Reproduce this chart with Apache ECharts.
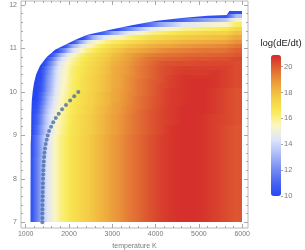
<!DOCTYPE html>
<html><head><meta charset="utf-8">
<script src="https://cdn.jsdelivr.net/npm/echarts@6/dist/echarts.min.js"></script>
<style>html,body{margin:0;padding:0;background:#fff}#c{width:305px;height:250px}</style>
</head><body><div id="c"></div>
<script>
const _ = null;
// cell edges (temperature K, log P)
const temperatureEdges = [1100,1200,1300,1400,1500,1600,1700,1800,1900,2000,2100,2200,2300,2400,2500,2600,2700,2800,2900,3000,3250,3500,3750,4000,4250,4500,4750,5000,5250,5500,5750,6000];
const logPEdges = [7.0,7.5,8.0,8.5,9.0,9.25,9.5,9.6,9.7,9.8,9.9,10.0,10.1,10.2,10.3,10.4,10.5,10.6,10.7,10.8,10.9,11.0,11.1,11.2,11.3,11.4,11.5,11.6,11.7,11.8,11.9];
// log(dE/dt) per cell, rows from low to high pressure
const cellValues = [
[10.4,11.6,12.8,13.9,14.7,15.3,15.8,16.2,16.5,16.8,17.0,17.2,17.4,17.6,17.8,18.0,18.2,18.4,18.6,18.9,19.4,19.8,20.2,20.5,20.7,20.8,20.8,20.7,20.5,20.3,20.1],
[10.4,11.6,12.8,13.9,14.7,15.3,15.8,16.2,16.5,16.8,17.0,17.2,17.4,17.6,17.8,18.0,18.2,18.4,18.6,18.9,19.4,19.8,20.2,20.5,20.7,20.8,20.8,20.7,20.5,20.3,20.1],
[10.4,11.6,12.8,13.9,14.7,15.3,15.8,16.2,16.5,16.8,17.0,17.2,17.4,17.6,17.8,18.0,18.2,18.4,18.6,18.9,19.4,19.8,20.2,20.5,20.7,20.8,20.8,20.7,20.5,20.3,20.1],
[10.3,11.5,12.7,13.8,14.6,15.3,15.8,16.2,16.5,16.8,17.0,17.2,17.4,17.6,17.8,18.0,18.2,18.4,18.6,18.9,19.4,19.8,20.2,20.5,20.7,20.8,20.8,20.7,20.5,20.3,20.1],
[10.0,11.1,12.3,13.4,14.3,15.0,15.6,16.0,16.4,16.7,16.9,17.1,17.3,17.5,17.7,17.9,18.1,18.3,18.5,18.8,19.3,19.7,20.1,20.4,20.7,20.8,20.8,20.7,20.5,20.3,20.1],
[10.0,10.8,12.0,13.2,14.2,14.9,15.5,15.9,16.3,16.6,16.9,17.1,17.3,17.5,17.7,17.9,18.1,18.3,18.5,18.8,19.3,19.7,20.1,20.4,20.6,20.8,20.8,20.7,20.5,20.4,20.2],
[10.0,10.5,11.7,12.9,14.0,14.8,15.4,15.8,16.2,16.5,16.8,17.0,17.2,17.4,17.6,17.8,18.0,18.2,18.4,18.7,19.2,19.7,20.1,20.4,20.6,20.8,20.8,20.8,20.6,20.4,20.2],
[10.0,10.3,11.5,12.7,13.8,14.6,15.2,15.7,16.2,16.5,16.8,17.0,17.2,17.4,17.6,17.8,18.0,18.2,18.4,18.7,19.2,19.6,20.0,20.4,20.6,20.8,20.8,20.8,20.6,20.4,20.2],
[10.0,10.2,11.2,12.4,13.6,14.5,15.1,15.6,16.1,16.4,16.7,16.9,17.1,17.3,17.5,17.7,17.9,18.1,18.3,18.7,19.1,19.6,20.0,20.3,20.6,20.7,20.8,20.8,20.6,20.4,20.2],
[10.0,10.0,11.0,12.2,13.4,14.3,15.0,15.6,16.0,16.4,16.6,16.9,17.1,17.3,17.5,17.7,17.9,18.1,18.3,18.6,19.1,19.6,20.0,20.3,20.6,20.7,20.8,20.8,20.6,20.4,20.2],
[10.0,10.0,10.8,12.0,13.1,14.1,14.9,15.5,15.9,16.3,16.6,16.9,17.1,17.3,17.5,17.7,17.9,18.1,18.3,18.6,19.1,19.5,19.9,20.3,20.6,20.7,20.8,20.8,20.6,20.4,20.2],
[10.0,10.0,10.5,11.7,12.9,14.0,14.8,15.4,15.8,16.2,16.5,16.8,17.0,17.2,17.4,17.6,17.8,18.0,18.2,18.6,19.0,19.5,19.9,20.3,20.6,20.7,20.8,20.8,20.6,20.4,20.2],
[10.0,10.0,10.4,11.6,12.8,13.9,14.7,15.3,15.8,16.2,16.5,16.8,17.0,17.2,17.4,17.6,17.8,18.0,18.2,18.5,19.0,19.5,19.9,20.3,20.5,20.7,20.8,20.8,20.7,20.5,20.3],
[10.0,10.0,10.3,11.5,12.7,13.8,14.6,15.2,15.7,16.2,16.5,16.8,17.0,17.2,17.4,17.6,17.8,18.0,18.2,18.5,19.0,19.5,19.9,20.2,20.5,20.7,20.8,20.8,20.7,20.5,20.3],
[10.0,10.0,10.2,11.4,12.6,13.7,14.5,15.2,15.7,16.1,16.4,16.7,17.0,17.2,17.4,17.6,17.8,18.0,18.2,18.5,19.0,19.4,19.8,20.2,20.5,20.7,20.7,20.7,20.7,20.5,20.3],
[_,10.0,10.2,11.2,12.4,13.6,14.5,15.1,15.6,16.1,16.4,16.7,16.9,17.1,17.3,17.5,17.7,17.9,18.1,18.5,18.9,19.4,19.8,20.2,20.4,20.6,20.6,20.6,20.7,20.5,20.3],
[_,10.0,10.0,11.0,12.2,13.4,14.3,15.0,15.6,16.0,16.4,16.6,16.9,17.1,17.3,17.5,17.7,17.9,18.1,18.5,18.9,19.4,19.8,20.2,20.4,20.5,20.5,20.5,20.5,20.5,20.3],
[_,_,10.0,10.3,11.7,12.9,14.0,14.8,15.4,15.8,16.2,16.5,16.8,17.0,17.2,17.4,17.6,17.8,18.0,18.4,18.8,19.3,19.7,20.1,20.2,20.3,20.3,20.4,20.4,20.4,20.3],
[_,_,10.0,10.0,11.0,12.2,13.4,14.3,15.0,15.6,16.0,16.4,16.6,16.9,17.1,17.3,17.5,17.7,17.9,18.2,18.7,19.2,19.6,19.8,19.9,20.0,20.1,20.1,20.2,20.2,20.4],
[_,_,_,10.0,10.1,11.1,12.3,13.5,14.4,15.1,15.6,16.0,16.4,16.7,16.9,17.1,17.3,17.5,17.7,18.1,18.6,19.0,19.3,19.5,19.6,19.7,19.8,19.8,19.9,19.9,20.1],
[_,_,_,_,_,10.0,10.4,11.6,12.8,13.8,14.6,15.2,15.7,16.1,16.4,16.7,17.0,17.2,17.4,17.7,18.2,18.5,18.8,19.0,19.2,19.3,19.4,19.5,19.5,19.6,19.9],
[_,_,_,_,_,_,10.0,10.1,11.0,12.4,13.4,14.2,14.8,15.3,15.7,16.1,16.4,16.7,16.9,17.2,17.7,18.0,18.3,18.5,18.6,18.8,18.9,19.0,19.1,19.2,19.5],
[_,_,_,_,_,_,_,_,10.0,10.0,11.0,12.5,13.4,14.3,15.0,15.4,15.7,16.0,16.2,16.5,17.0,17.3,17.7,17.9,18.0,18.2,18.3,18.4,18.5,18.6,19.0],
[_,_,_,_,_,_,_,_,_,_,10.0,10.0,10.4,11.7,12.9,13.5,14.1,14.6,14.9,15.3,16.1,16.5,17.0,17.2,17.4,17.6,17.7,17.8,17.9,18.0,18.5],
[_,_,_,_,_,_,_,_,_,_,_,_,_,10.0,10.0,10.4,10.8,11.4,12.1,13.2,14.7,15.3,16.0,16.3,16.6,16.9,17.0,17.2,17.3,17.4,17.9],
[_,_,_,_,_,_,_,_,_,_,_,_,_,_,_,_,_,10.0,10.0,10.3,11.8,13.2,14.5,15.1,15.4,15.9,16.1,16.3,16.4,16.6,17.2],
[_,_,_,_,_,_,_,_,_,_,_,_,_,_,_,_,_,_,_,_,10.0,10.3,11.4,12.7,13.5,14.4,14.7,15.0,15.2,15.4,16.4],
[_,_,_,_,_,_,_,_,_,_,_,_,_,_,_,_,_,_,_,_,_,_,10.0,10.3,10.4,11.0,11.8,12.5,13.0,13.5,15.1],
[_,_,_,_,_,_,_,_,_,_,_,_,_,_,_,_,_,_,_,_,_,_,_,_,_,10.0,10.0,10.3,10.3,10.4,13.3],
[_,_,_,_,_,_,_,_,_,_,_,_,_,_,_,_,_,_,_,_,_,_,_,_,_,_,_,_,_,10.0,10.3]
];
// upper-left edge of the computed region
const domainEdgeT = [1110,1112,1115,1125,1130,1140,1160,1190,1240,1330,1480,1677,1950,2150,2408,2947,3480,4025,4600,5200,5640,5690,5700,6000];
const domainEdgeP = [7.0,8.0,8.8,9.0,9.5,9.8,10.0,10.2,10.4,10.6,10.8,10.97,11.1,11.2,11.31,11.43,11.54,11.64,11.70,11.75,11.77,11.84,11.86,11.86];
// dotted track
const curveTemperature = [1385,1385,1385,1387,1388,1390,1392,1394,1396,1398,1400,1404,1408,1413,1418,1425,1434,1446,1462,1485,1508,1540,1585,1635,1695,1762,1840,1930,2025,2120,2215];
const curveLogP = [7.0,7.1,7.2,7.3,7.4,7.5,7.6,7.7,7.8,7.9,8.0,8.1,8.2,8.3,8.4,8.5,8.6,8.7,8.8,8.9,9.0,9.1,9.2,9.3,9.4,9.5,9.6,9.7,9.8,9.9,10.0];
// ticks
const xMajorTicks = [1000,2000,3000,4000,5000,6000];
const xMinorTicks = [1200,1400,1600,1800,2200,2400,2600,2800,3200,3400,3600,3800,4200,4400,4600,4800,5200,5400,5600,5800];
const yMajorTicks = [7,8,9,10,11,12];
const yMinorTicks = [7.2,7.4,7.6,7.8,8.2,8.4,8.6,8.8,9.2,9.4,9.6,9.8,10.2,10.4,10.6,10.8,11.2,11.4,11.6,11.8];
const colorbarTicks = [10,12,14,16,18,20];
const colorStops = ['#2747f2','#4a68f1','#7a91f3','#aebdf6','#dfe5fa','#fbf6c4','#f8ea55','#f4cb45','#ec9f3c','#e06633','#d42a2a'];
const V_MIN = 10, V_MAX = 20.9;

const cells = [];
for (let r = 0; r < cellValues.length; r++) {
  for (let c = 0; c < cellValues[r].length; c++) {
    const v = cellValues[r][c];
    if (v === null) continue;
    cells.push([temperatureEdges[c], temperatureEdges[c + 1], logPEdges[r], logPEdges[r + 1], v, r, c]);
  }
}
const curvePoints = curveTemperature.map((t, i) => [t, curveLogP[i]]);

// same mapping as the visualMap (even RGB stops) for smooth cell shading
const stopRGB = colorStops.map(h => [parseInt(h.slice(1, 3), 16), parseInt(h.slice(3, 5), 16), parseInt(h.slice(5, 7), 16)]);
function colorOf(v) {
  let f = (v - V_MIN) / (V_MAX - V_MIN);
  f = Math.max(0, Math.min(1, f)) * (stopRGB.length - 1);
  const i = Math.min(stopRGB.length - 2, Math.floor(f)), k = f - i;
  const a = stopRGB[i], b = stopRGB[i + 1];
  return 'rgb(' + [0, 1, 2].map(j => Math.round(a[j] + (b[j] - a[j]) * k)).join(',') + ')';
}

const FONT = 'Liberation Sans, Arial, Helvetica, sans-serif';
const LABEL = '#7a7a7a', TICK = '#a8a8a8';
const X_MIN = 891, X_MAX = 6134, Y_MIN = 6.869, Y_MAX = 12.092;

function xAx(position, ticks, len, labels) {
  return {
    type: 'value', gridIndex: 0, min: X_MIN, max: X_MAX, position: position,
    axisLine: { show: false, onZero: false }, splitLine: { show: false },
    axisTick: { show: true, inside: true, length: len, customValues: ticks, lineStyle: { color: TICK, width: 1 } },
    axisLabel: labels ? { show: true, customValues: ticks, fontSize: 7, color: LABEL, margin: 3, fontFamily: FONT, formatter: v => String(v) } : { show: false }
  };
}
function yAx(position, ticks, len, labels) {
  return {
    type: 'value', gridIndex: 0, min: Y_MIN, max: Y_MAX, position: position,
    axisLine: { show: false, onZero: false }, splitLine: { show: false },
    axisTick: { show: true, inside: true, length: len, customValues: ticks, lineStyle: { color: TICK, width: 1 } },
    axisLabel: labels ? { show: true, customValues: ticks, fontSize: 7, color: LABEL, margin: 4, fontFamily: FONT, formatter: v => String(v) } : { show: false }
  };
}
const xMain = xAx('bottom', xMajorTicks, 4, true);
Object.assign(xMain, { name: 'temperature K', nameLocation: 'middle', nameGap: 10, nameTextStyle: { fontSize: 7, color: LABEL, fontFamily: FONT } });
const yMain = yAx('left', yMajorTicks, 4, true);
Object.assign(yMain, { name: 'log P, Pa', nameLocation: 'middle', nameGap: 14, nameTextStyle: { fontSize: 7, color: LABEL, fontFamily: FONT } });

function renderCell(params, api) {
  const a = api.coord([api.value(0), api.value(3)]);
  const b = api.coord([api.value(1), api.value(2)]);
  const x0 = Math.round(a[0]), x1 = Math.round(b[0]), y0 = Math.round(a[1]), y1 = Math.round(b[1]);
  const v = api.value(4), r = api.value(5), c = api.value(6);
  const row = cellValues[r];
  const vl = (c > 0 && row[c - 1] !== null) ? row[c - 1] : v;
  const vr = (c < row.length - 1 && row[c + 1] !== null) ? row[c + 1] : v;
  const fill = new echarts.graphic.LinearGradient(0, 0, 1, 0, [
    { offset: 0, color: colorOf((vl + v) / 2) },
    { offset: 0.5, color: api.visual('color') },
    { offset: 1, color: colorOf((v + vr) / 2) }
  ]);
  return { type: 'rect', shape: { x: x0, y: y0, width: x1 - x0, height: y1 - y0 }, style: { fill: fill } };
}
function renderMask(params, api) {
  const pts = [api.coord([1090, 6.99]), api.coord([domainEdgeT[0], 6.99])];
  for (let i = 0; i < domainEdgeT.length; i++) pts.push(api.coord([domainEdgeT[i], domainEdgeP[i]]));
  pts.push(api.coord([6010, domainEdgeP[domainEdgeP.length - 1]]));
  pts.push(api.coord([6010, 11.96]));
  pts.push(api.coord([1090, 11.96]));
  return { type: 'polygon', shape: { points: pts }, style: { fill: '#ffffff' } };
}

const chart = echarts.init(document.getElementById('c'), null, { renderer: 'canvas' });
chart.setOption({
  animation: false,
  backgroundColor: '#ffffff',
  textStyle: { fontFamily: FONT },
  grid: [
    { left: 21, right: 57, top: 1, bottom: 22, show: true, borderColor: '#b8b8b8', borderWidth: 1, backgroundColor: 'transparent', containLabel: false, outerBoundsMode: 'none' },
    { left: 271, top: 55, width: 10, height: 141, show: false, containLabel: false, outerBoundsMode: 'none' }
  ],
  xAxis: [
    xMain,
    xAx('bottom', xMinorTicks, 2, false),
    xAx('top', xMajorTicks, 4, false),
    xAx('top', xMinorTicks, 2, false),
    { type: 'value', gridIndex: 1, min: 0, max: 1, show: false }
  ],
  yAxis: [
    yMain,
    yAx('left', yMinorTicks, 2, false),
    yAx('right', yMajorTicks, 4, false),
    yAx('right', yMinorTicks, 2, false),
    { type: 'value', gridIndex: 1, min: V_MIN, max: V_MAX, position: 'right',
      axisLine: { show: false, onZero: false }, splitLine: { show: false },
      axisTick: { show: true, inside: false, length: 2, customValues: colorbarTicks, lineStyle: { color: TICK } },
      axisLabel: { show: true, customValues: colorbarTicks, fontSize: 7.5, color: LABEL, margin: 3, fontFamily: FONT } }
  ],
  visualMap: {
    type: 'continuous', seriesIndex: 0, dimension: 4, min: V_MIN, max: V_MAX,
    inRange: { color: colorStops }, left: 271, top: 55, itemWidth: 10, itemHeight: 141,
    padding: 0, calculable: false, hoverLink: false, text: null, orient: 'vertical', show: true
  },
  graphic: [
    { type: 'text', x: 281, y: 43, style: { text: 'log(dE/dt)', fill: '#222', fontSize: 9.5, fontFamily: FONT, align: 'center', verticalAlign: 'middle' } }
  ],
  series: [
    { type: 'custom', xAxisIndex: 0, yAxisIndex: 0, data: cells, dimensions: ['t0', 't1', 'p0', 'p1', 'rate', 'row', 'col'],
      encode: { x: [0, 1], y: [2, 3] }, renderItem: renderCell, silent: true, clip: true, z: 1 },
    { type: 'custom', xAxisIndex: 0, yAxisIndex: 0, data: [[domainEdgeT[0], domainEdgeP[0]]], encode: { x: 0, y: 1 },
      renderItem: renderMask, silent: true, clip: true, z: 2 },
    { type: 'scatter', xAxisIndex: 0, yAxisIndex: 0, data: curvePoints, symbolSize: 4,
      itemStyle: { color: '#4a6ea5' }, silent: true, z: 3 }
  ]
});
</script>
</body></html>
